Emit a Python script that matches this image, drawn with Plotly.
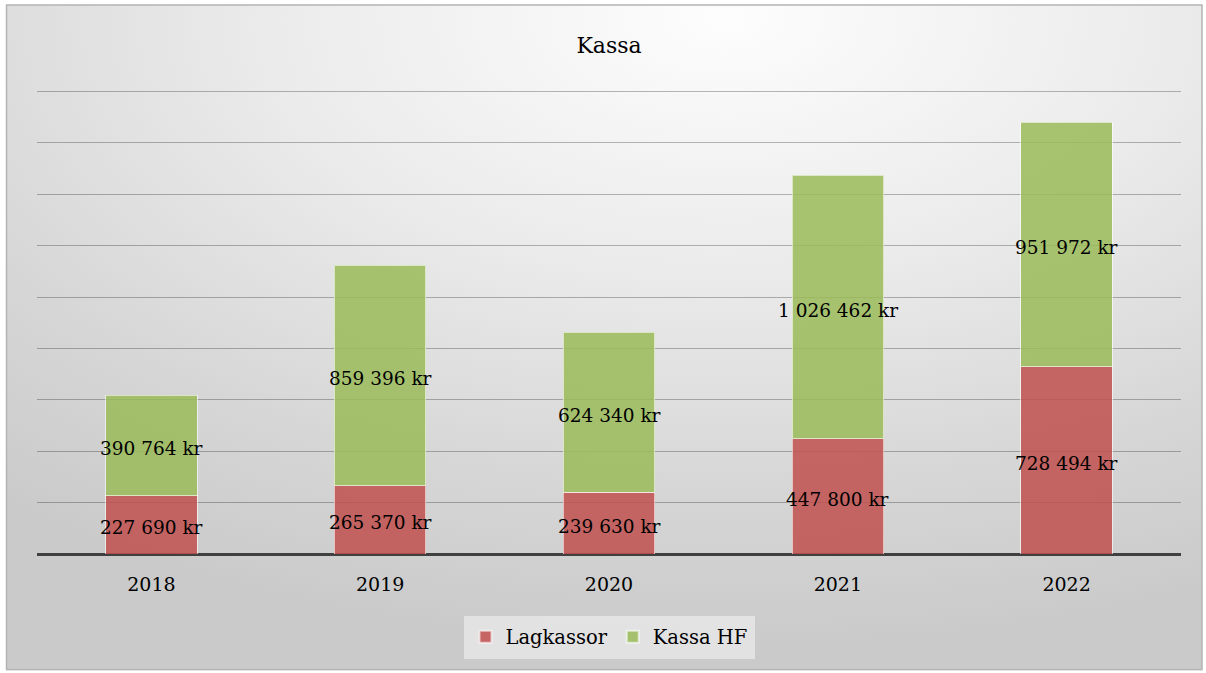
import base64
import plotly.graph_objects as go

years = ["2018", "2019", "2020", "2021", "2022"]
lagkassor = [227690, 265370, 239630, 447800, 728494]
kassa_hf = [390764, 859396, 624340, 1026462, 951972]
y_ticks = [0, 200000, 400000, 600000, 800000, 1000000, 1200000, 1400000, 1600000, 1800000]

W, H = 1206, 673
Y_MAX = 1810000
L, R, B = 37, 24.5, 119
PH = 462 * Y_MAX / 1800000
T = H - B - PH
PW = W - L - R

FONT = "DejaVu Serif"

def fmt(v):
    return f"{v:,}".replace(",", " ") + " kr"

svg = f'''<svg xmlns="http://www.w3.org/2000/svg" width="{W}" height="{H}" viewBox="0 0 {W} {H}">
<defs>
<radialGradient id="g" cx="0.6" cy="0.02" r="0.95" fx="0.6" fy="0.02">
<stop offset="0" stop-color="#fdfdfd"/>
<stop offset="0.4" stop-color="#ebebeb"/>
<stop offset="0.75" stop-color="#d6d6d6"/>
<stop offset="1" stop-color="#cacaca"/>
</radialGradient>
</defs>
<rect x="0" y="0" width="{W}" height="{H}" fill="#ffffff"/>
<rect x="6.5" y="5.5" width="{W-10}" height="{H-9}" fill="url(#g)" stroke="#b4b4b4" stroke-width="1.5"/>
</svg>'''
src = "data:image/svg+xml;base64," + base64.b64encode(svg.encode()).decode()

fig = go.Figure()
fig.add_trace(go.Bar(
    x=years, y=lagkassor, name="Lagkassor",
    marker=dict(color="rgba(192,80,77,0.85)", line=dict(color="rgba(255,255,255,0.6)", width=1)),
    hoverinfo="skip",
))
fig.add_trace(go.Bar(
    x=years, y=kassa_hf, name="Kassa HF",
    marker=dict(color="rgba(155,187,89,0.85)", line=dict(color="rgba(255,255,255,0.6)", width=1)),
    hoverinfo="skip",
))

annotations = []
for i, (a, b) in enumerate(zip(lagkassor, kassa_hf)):
    for yv, val in ((a / 2, a), (a + b / 2, b)):
        annotations.append(dict(
            x=i, y=yv, xref="x", yref="y", text=fmt(val), showarrow=False,
            yshift=-3, xanchor="center", yanchor="middle",
            font=dict(family=FONT, size=18.5, color="#000000"),
        ))

fig.update_layout(
    width=W, height=H,
    barmode="stack", bargap=0.6,
    margin=dict(l=L, r=R, t=T, b=B, pad=0),
    paper_bgcolor="#ffffff", plot_bgcolor="rgba(0,0,0,0)",
    font=dict(family=FONT, color="#000000"),
    title=dict(text="Kassa", x=0.5, xref="paper", xanchor="center",
               y=1 - 45 / H, yanchor="middle", font=dict(family=FONT, size=22, color="#000000")),
    xaxis=dict(type="category", showgrid=False, showline=False, zeroline=False, ticks="",
               tickfont=dict(family=FONT, size=19, color="#000000"), ticklabelstandoff=17),
    yaxis=dict(range=[0, Y_MAX], tickvals=y_ticks, showticklabels=False, showgrid=True,
               gridcolor="rgba(0,0,0,0.27)", gridwidth=1, zeroline=True, zerolinecolor="#404040",
               zerolinewidth=3, showline=False, fixedrange=True),
    legend=dict(orientation="h", x=0.5, xanchor="center", y=-83 / PH, yanchor="middle",
                bgcolor="rgba(242,242,242,0.6)", font=dict(family=FONT, size=19.5, color="#000000"),
                itemsizing="constant", traceorder="normal", itemwidth=30,
                borderwidth=4, bordercolor="rgba(242,242,242,0)"),
    annotations=annotations,
    images=[dict(source=src, xref="paper", yref="paper", x=-L / PW, y=1 + T / PH,
                 sizex=W / PW, sizey=H / PH, xanchor="left", yanchor="top",
                 sizing="stretch", layer="below")],
)

fig.write_html("out.html", config={"displayModeBar": False},
               post_script="document.body.style.margin='0';document.body.style.padding='0';")
